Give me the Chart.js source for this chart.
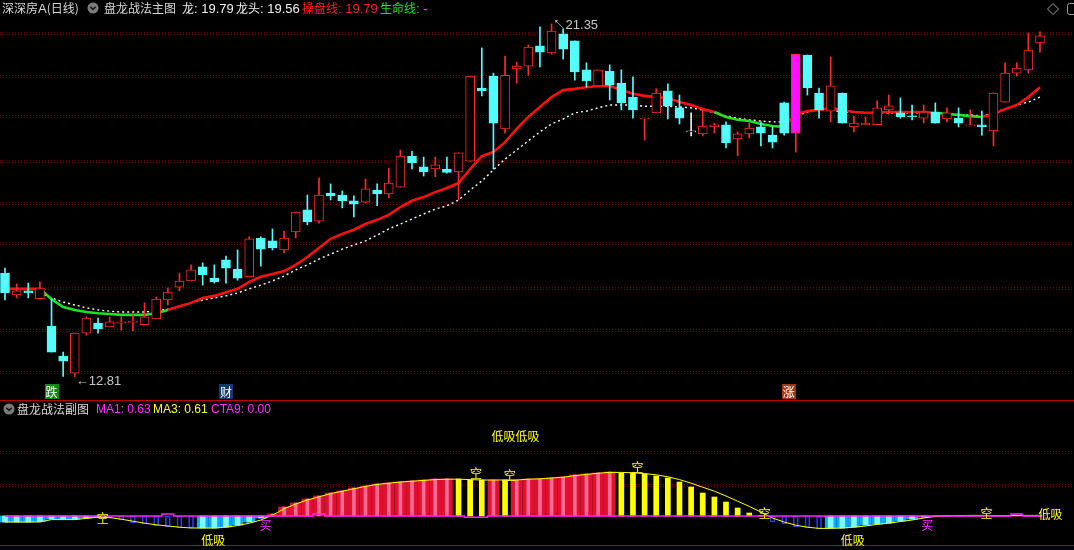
<!DOCTYPE html>
<html lang="zh">
<head>
<meta charset="utf-8">
<title>盘龙战法</title>
<script src="https://cdn.jsdelivr.net/npm/chart.js@4.4.1/dist/chart.umd.min.js"></script>
<style>
  html, body { margin: 0; padding: 0; background: #000; }
  body { width: 1074px; height: 550px; overflow: hidden; position: relative; }
  canvas { position: absolute; left: 0; }
  #main { top: 0; }
  #sub { top: 400px; }
  .t { position: absolute; white-space: nowrap; font-size: 12px; line-height: 16px; font-family: "Noto Sans CJK SC", sans-serif; }
  .n { font-family: "Liberation Sans", Arial, sans-serif; font-size: 13px; }
  .s { font-family: "Liberation Sans", Arial, sans-serif; font-size: 12px; }
</style>
</head>
<body>
<canvas id="main" width="1074" height="400"></canvas>
<canvas id="sub" width="1074" height="150"></canvas>

<!-- main header -->
<div class="t" style="left:2px;top:0;color:#d8d8d8">深深房<span class="n">A</span>(日线)</div>
<svg style="position:absolute;left:87px;top:2px" width="12" height="12"><circle cx="6" cy="6" r="5.5" fill="#7c7c7c"/><path d="M3.3 4.8 L6 7.4 L8.7 4.8" stroke="#1a1a1a" stroke-width="1.6" fill="none"/></svg>
<div class="t" style="left:104px;top:0;color:#d8d8d8">盘龙战法主图</div>
<div class="t" style="left:182px;top:0;color:#f0f0f0">龙<span class="n">: 19.79</span></div>
<div class="t" style="left:236px;top:0;color:#f0f0f0">龙头<span class="n">: 19.56</span></div>
<div class="t" style="left:302px;top:0;color:#ff2020">操盘线<span class="n">: 19.79</span></div>
<div class="t" style="left:380px;top:0;color:#22e022">生命线<span class="n">: -</span></div>
<svg style="position:absolute;left:1046px;top:2px" width="14" height="14"><path d="M7 1.5 L12.5 7 L7 12.5 L1.5 7 Z" stroke="#a0a0a0" fill="none"/></svg>
<svg style="position:absolute;left:1066px;top:2px" width="8" height="14"><rect x="1.5" y="1.5" width="10" height="11" rx="2" stroke="#a0a0a0" fill="none"/></svg>

<!-- sub header -->
<svg style="position:absolute;left:3px;top:403px" width="12" height="12"><circle cx="6" cy="6" r="5.5" fill="#7c7c7c"/><path d="M3.3 4.8 L6 7.4 L8.7 4.8" stroke="#1a1a1a" stroke-width="1.6" fill="none"/></svg>
<div class="t" style="left:17px;top:401px;color:#d8d8d8">盘龙战法副图</div>
<div class="t s" style="left:96px;top:401px;color:#ff30ff">MA1: 0.63</div>
<div class="t s" style="left:153px;top:401px;color:#ffff30">MA3: 0.61</div>
<div class="t s" style="left:211px;top:401px;color:#ff30ff">CTA9: 0.00</div>

<script>
/* ---------- data ---------- */

const days = Array.from({length: 90}, (_, i) => i);

const open = [15.32,14.79,14.89,14.70,14.04,13.31,12.90,13.87,14.11,14.02,
  14.11,14.13,14.07,14.21,14.67,14.98,15.13,15.47,15.20,15.64,
  15.42,15.23,16.17,16.10,15.88,16.32,16.85,16.58,17.26,17.21,
  17.07,17.04,17.33,17.24,17.40,18.15,17.89,17.84,17.84,17.77,
  18.03,19.80,20.09,18.81,20.26,20.33,20.82,20.65,21.11,20.94,
  20.24,19.85,20.21,19.92,19.58,19.05,19.20,19.73,19.32,18.74,
  18.69,18.86,18.91,18.57,18.69,18.86,18.66,19.44,18.71,20.60,
  19.68,19.24,19.68,18.86,18.91,18.91,19.27,19.20,19.12,19.07,
  19.22,19.05,19.07,18.88,18.91,18.76,19.46,20.16,20.24,20.89];

const high = [15.44,15.06,15.08,15.11,14.69,13.41,13.87,14.26,14.23,14.26,
  14.26,14.31,14.60,14.74,14.96,15.32,15.52,15.57,15.52,15.73,
  15.88,16.20,16.20,16.39,16.34,16.80,17.21,17.62,17.48,17.31,
  17.19,17.60,17.48,17.86,18.30,18.27,18.13,18.13,18.13,18.23,
  20.09,20.77,20.16,20.57,20.43,20.84,21.28,21.35,21.23,20.94,
  20.41,20.24,20.36,20.24,20.07,19.07,19.78,19.90,19.63,19.20,
  19.27,18.95,18.98,18.74,18.95,18.98,18.86,19.46,20.62,20.60,
  19.80,20.55,19.68,19.12,19.10,19.49,19.63,19.56,19.39,19.39,
  19.44,19.32,19.32,19.27,19.24,19.68,20.41,20.41,21.13,21.16];

const low = [14.67,14.72,14.72,14.70,13.41,12.82,12.81,13.82,13.87,14.02,
  13.94,13.92,14.07,14.21,14.55,14.89,15.13,15.03,15.08,15.08,
  15.15,15.23,15.49,15.88,15.81,16.17,16.49,16.53,17.09,16.90,
  16.68,17.02,16.95,17.14,17.40,17.84,17.67,17.65,17.74,17.09,
  18.03,19.61,17.84,18.71,19.92,20.11,20.31,20.62,20.50,19.99,
  19.82,19.85,19.51,19.27,19.07,18.54,19.20,19.05,18.93,18.64,
  18.64,18.71,18.35,18.16,18.59,18.40,18.35,18.66,18.25,19.63,
  19.07,18.98,18.95,18.74,18.91,18.91,19.17,19.07,19.03,18.95,
  18.95,18.98,18.86,18.88,18.66,18.40,19.46,20.09,20.16,20.67];

const close = [14.84,14.89,14.84,14.96,13.41,13.19,13.87,14.23,13.97,14.14,
  14.14,14.14,14.26,14.69,14.86,15.13,15.40,15.28,15.11,15.44,
  15.20,16.15,15.90,15.93,16.17,16.80,16.56,17.21,17.19,17.07,
  16.99,17.36,17.24,17.50,18.15,17.99,17.77,17.94,17.76,18.23,
  20.09,19.73,18.95,20.11,20.33,20.79,20.67,21.18,20.74,20.19,
  19.97,20.24,19.87,19.44,19.27,19.07,19.68,19.36,19.07,18.74,
  18.88,18.91,18.47,18.69,18.83,18.71,18.49,18.71,20.62,19.80,
  19.27,19.85,18.95,18.95,18.95,19.32,19.37,19.10,19.10,19.22,
  18.95,19.20,18.95,18.91,18.86,19.68,20.16,20.28,20.72,21.06];

// 涨停 days drawn as a filled magenta body
const limitUpDays = [68];

// 操盘线 and the green stretches of it
const caopan = [14.94,14.94,14.94,14.94,14.69,14.50,14.43,14.38,14.35,14.33,
  14.31,14.31,14.31,14.35,14.43,14.52,14.60,14.72,14.77,14.86,
  14.94,15.11,15.23,15.30,15.37,15.52,15.71,15.93,16.15,16.27,
  16.37,16.51,16.61,16.73,16.92,17.07,17.16,17.28,17.38,17.50,
  17.84,18.15,18.25,18.49,18.81,19.10,19.34,19.58,19.75,19.78,
  19.82,19.85,19.85,19.75,19.66,19.61,19.58,19.56,19.46,19.39,
  19.29,19.22,19.10,19.03,19.00,18.93,18.88,18.86,19.17,19.24,
  19.27,19.32,19.27,19.22,19.20,19.20,19.22,19.22,19.22,19.22,
  19.20,19.17,19.15,19.12,19.10,19.17,19.29,19.39,19.58,19.82];
const caopanWeak = [0,0,0,1,1,1,1,1,1,1, 1,1,1,1,0,0,0,0,0,0,
  0,0,0,0,0,0,0,0,0,0, 0,0,0,0,0,0,0,0,0,0,
  0,0,0,0,0,0,0,0,0,0, 0,0,0,0,0,0,0,0,0,0,
  0,1,1,1,1,1,1,0,0,0, 0,0,0,0,0,0,0,0,0,0,
  1,1,1,1,0,0,0,0,0,0];

// white dotted line
const whiteLine = [null,null,null,14.84,14.72,14.62,14.55,14.48,14.43,14.40,
  14.38,14.38,14.38,14.40,14.45,14.52,14.60,14.67,14.72,14.77,
  14.84,14.94,15.03,15.13,15.25,15.40,15.52,15.66,15.78,15.90,
  16.00,16.10,16.24,16.39,16.51,16.63,16.75,16.87,16.95,17.09,
  17.33,17.55,17.82,18.08,18.30,18.52,18.74,18.93,19.05,19.20,
  19.24,19.32,19.39,19.39,19.39,19.36,19.36,19.36,19.34,19.32,
  19.27,19.20,19.12,19.07,19.03,19.00,18.98,18.98,19.12,19.22,
  19.27,19.27,19.22,19.22,19.20,19.20,19.20,19.20,19.20,19.20,
  19.20,19.17,19.15,19.15,19.12,19.20,19.29,19.39,19.46,19.58];

const priceGrid = [21.13, 20.09, 19.12, 18.03, 17.02, 16.05, 14.96, 13.94, 12.93];

const signalText = ['跌', '财', '涨'];
const signalDay = [4, 19, 67.4];

// sub chart (副图)
const ma1 = [-1.5,-1.5,-1.5,-1.4,-0.75,-0.75,-0.75,-0.5,-0.1,-0.5,
  -1,-1.75,-2,-2.5,-2.75,-3,-3,-3,-3,-2.75,
  -2.25,-1.5,-0.5,0.5,2.25,3.25,4.25,5,5.75,6.25,
  7,7.5,8,8.25,8.5,8.75,9,9.25,9.25,9.25,
  9,9,9,9,9,9.25,9.25,9.5,9.75,10.25,
  10.5,10.75,11,10.75,10.75,10.5,10,9.5,8.5,7.25,
  5.75,4.75,3.5,2,0.75,0.1,-1.5,-2,-2.75,-3,
  -3.25,-3,-3,-2.75,-2.25,-2,-1.75,-1.25,-0.75,-0.25,
  0.1,0.15,0.15,0.1,0.1,0.05,0.1,0.15,0.1,0.15];
const ma3 = [-1.5,-1.5,-1.5,-1.5,-0.9,-0.9,-0.9,-0.6,-0.3,-0.4,
  -0.8,-1.3,-1.8,-2.2,-2.5,-2.8,-3,-3,-3,-2.8,
  -2.4,-1.8,-1,0.2,1.8,3,4,4.8,5.6,6.2,
  6.8,7.4,7.9,8.2,8.5,8.7,8.9,9.1,9.2,9.2,
  9.1,9,9,9,9,9.2,9.3,9.5,9.7,10.1,
  10.4,10.7,10.9,10.9,10.8,10.6,10.3,9.8,9.1,8.2,
  7.2,6.2,5,3.7,2.4,1,-0.5,-1.5,-2.3,-2.8,
  -3.1,-3.1,-3,-2.8,-2.5,-2.1,-1.8,-1.4,-1,-0.5,
  -0.1,0.1,0.1,0.15,0.15,0.1,0.1,0.15,0.15,0.15];
const cta9 = [0,0,0,0,0,0,0,0,0,0, 0,0,0,0,0.5,0,0,0,0,0,
  0,0,0,0,0,0,0,0.5,0,0, 0,0,0,0,0,0,0,0,0,0,
  -0.3,-0.3,0,0,0,0,0,0,0,0, 0,0,0,0,0,0,0,0,0,0,
  0,0,0,0,0,0,0,0,0,0, 0,0,0,0,0,0,0,0,0,0,
  0,0,0,0,0,0,0,0.5,0,0];
// c = 下跌实柱, b = 下跌空心柱, r = 上涨红柱, y = 空头黄柱
const ma1Kind = 'cccccccccbbbbbbbbccccccrrrrrrrrrrrrrrrryyyryrrrrrrrrryyyyyyyyyyyyybbbbbcccccccccrrrrrrrrrr'.split('');

const subGrid = [16, 7.75];
const subText = ['空', '低吸', '买', '空', '空', '低吸低吸', '空', '空', '低吸', '买', '空', '低吸'];
const subTextDay = [8.4, 17.9, 22.4, 40.5, 43.4, 43.9, 54.4, 65.3, 72.9, 79.3, 84.4, 89.9];
const subTextVal = [-0.5, -6, -2.25, 10.75, 10.25, 20, 12.25, 0.75, -6, -2.25, 0.75, 0.5];

/* ---------- helpers ---------- */

const X_MIN = -0.43, X_MAX = 91.925;
const RED = '#ff2a2a', CYAN = '#54fcfc';

function candleColor(i) {
    if (close[i] > open[i]) return RED;
    if (close[i] < open[i]) return CYAN;
    return '#f0f0f0';
}

const xAxis = {type: 'linear', min: X_MIN, max: X_MAX, offset: false, display: false};

const gridPlugin = {
    id: 'dotGrid',
    beforeDatasetsDraw(chart, args, opts) {
        const {ctx, chartArea, scales: {y}} = chart;
        ctx.save();
        ctx.strokeStyle = '#6a0000';
        ctx.lineWidth = 1;
        ctx.setLineDash([1, 2]);
        for (const v of opts.values) {
            const py = Math.round(y.getPixelForValue(v)) + 0.5;
            for (const d of [-1, 1]) {
                ctx.beginPath();
                ctx.moveTo(chartArea.left, py + d);
                ctx.lineTo(chartArea.right, py + d);
                ctx.stroke();
            }
        }
        ctx.restore();
    }
};

const markerPlugin = {
    id: 'markers',
    afterDatasetsDraw(chart) {
        const {ctx, chartArea, scales: {x, y}} = chart;
        ctx.save();
        ctx.font = '13px "Liberation Sans", Arial, sans-serif';
        ctx.fillStyle = '#c8c8c8';
        ctx.textBaseline = 'middle';

        const lo = Math.min(...low), loDay = low.indexOf(lo);
        ctx.fillText('←' + lo.toFixed(2), x.getPixelForValue(loDay) + 1, y.getPixelForValue(lo) + 5);
        const hi = Math.max(...high), hiDay = high.indexOf(hi);
        ctx.fillText('↖' + hi.toFixed(2), x.getPixelForValue(hiDay) + 1, y.getPixelForValue(hi) + 1);

        const boxes = ['#118a11', '#143a6e', '#9a3a1a'];
        ctx.font = '12px "Noto Sans CJK SC", sans-serif';
        ctx.textAlign = 'center';
        signalText.forEach((s, k) => {
            const px = x.getPixelForValue(signalDay[k]);
            const py = chartArea.bottom - 9;
            ctx.fillStyle = boxes[k];
            ctx.fillRect(Math.round(px) - 7, py - 7, 14, 15);
            ctx.fillStyle = '#ffffff';
            ctx.fillText(s, px, py + 1);
        });
        ctx.restore();
    }
};

const subPlugin = {
    id: 'subMarks',
    afterDatasetsDraw(chart) {
        const {ctx, chartArea, scales: {x, y}} = chart;
        ctx.save();
        ctx.fillStyle = '#c00000';
        ctx.fillRect(chartArea.left, chartArea.top, chartArea.right - chartArea.left, 1);
        ctx.fillRect(chartArea.left, chartArea.bottom - 5, chartArea.right - chartArea.left, 1);
        ctx.font = '12px "Noto Sans CJK SC", sans-serif';
        ctx.textAlign = 'center';
        ctx.textBaseline = 'middle';
        subText.forEach((s, k) => {
            ctx.fillStyle = s === '买' ? '#ff30ff' : '#ffff20';
            ctx.fillText(s, x.getPixelForValue(subTextDay[k]), y.getPixelForValue(subTextVal[k]));
        });
        ctx.restore();
    }
};

/* ---------- main chart ---------- */

function initMain() {
    const bodyBg = days.map(i => {
        if (limitUpDays.includes(i)) return '#ff10ff';
        return close[i] < open[i] ? CYAN : '#000000';
    });

    new Chart(document.getElementById('main'), {
        type: 'bar',
        data: {
            datasets: [{
                label: 'body',
                data: days.map(i => ({x: i, y: [open[i], close[i]]})),
                backgroundColor: bodyBg,
                borderColor: days.map(i => limitUpDays.includes(i) ? RED : candleColor(i)),
                borderWidth: 1,
                borderSkipped: false,
                barThickness: 9,
                minBarLength: 1,
                grouped: false
            }, {
                label: 'wick',
                data: days.map(i => ({x: i, y: [low[i], high[i]]})),
                backgroundColor: days.map(i => limitUpDays.includes(i) ? RED : candleColor(i)),
                borderWidth: 0,
                barThickness: 1,
                grouped: false
            }, {
                type: 'line',
                label: '操盘线',
                data: days.map(i => ({x: i, y: caopan[i]})),
                borderWidth: 2.6,
                pointRadius: 0,
                tension: 0,
                segment: {
                    borderColor: c => caopanWeak[c.p0DataIndex] ? '#22e022' : '#ff1010'
                }
            }, {
                type: 'line',
                label: 'white',
                data: days.map(i => ({x: i, y: whiteLine[i]})),
                borderColor: '#ffffff',
                borderWidth: 1.4,
                borderDash: [2, 3],
                pointRadius: 0,
                spanGaps: false
            }]
        },
        options: {
            responsive: false,
            animation: false,
            layout: {padding: 0},
            plugins: {
                legend: {display: false},
                tooltip: {enabled: false},
                dotGrid: {values: priceGrid}
            },
            scales: {
                x: xAxis,
                y: {min: 12.25, max: 21.93, display: false}
            }
        },
        plugins: [gridPlugin, markerPlugin]
    });
}

/* ---------- sub chart ---------- */

function initSub() {
    const pick = k => days.map(i => ({x: i, y: ma1Kind[i] === k ? ma1[i] : null}));

    new Chart(document.getElementById('sub'), {
        type: 'bar',
        data: {
            datasets: [{
                type: 'line',
                label: 'CTA9',
                data: days.map(i => ({x: i, y: cta9[i]})),
                borderColor: '#ff20ff',
                borderWidth: 1.5,
                pointRadius: 0,
                stepped: 'middle'
            }, {
                type: 'line',
                label: 'MA3',
                data: days.map(i => ({x: i, y: ma3[i]})),
                borderColor: '#ffff00',
                borderWidth: 1,
                pointRadius: 0
            }, {
                label: 'pink',
                data: pick('r'),
                backgroundColor: '#ff6a96',
                barThickness: 3,
                grouped: false
            }, {
                label: 'red',
                data: pick('r'),
                backgroundColor: '#e0102e',
                barThickness: 11,
                grouped: false
            }, {
                label: 'cyanLight',
                data: pick('c'),
                backgroundColor: '#7ffcff',
                barThickness: 5,
                grouped: false
            }, {
                label: 'cyan',
                data: pick('c'),
                backgroundColor: '#0aa8ff',
                barThickness: 11,
                grouped: false
            }, {
                label: 'yellow',
                data: pick('y'),
                backgroundColor: '#ffff00',
                barThickness: 5,
                grouped: false
            }, {
                label: 'blue',
                data: pick('b'),
                backgroundColor: 'rgba(0,0,0,0)',
                borderColor: '#2040ff',
                borderWidth: 1,
                borderSkipped: false,
                barThickness: 5,
                grouped: false
            }]
        },
        options: {
            responsive: false,
            animation: false,
            layout: {padding: 0},
            plugins: {
                legend: {display: false},
                tooltip: {enabled: false},
                dotGrid: {values: subGrid}
            },
            scales: {
                x: xAxis,
                y: {min: -8.5, max: 29, display: false}
            }
        },
        plugins: [gridPlugin, subPlugin]
    });
}

const app = () => {
    initMain();
    initSub();
};
app();
</script>
</body>
</html>
